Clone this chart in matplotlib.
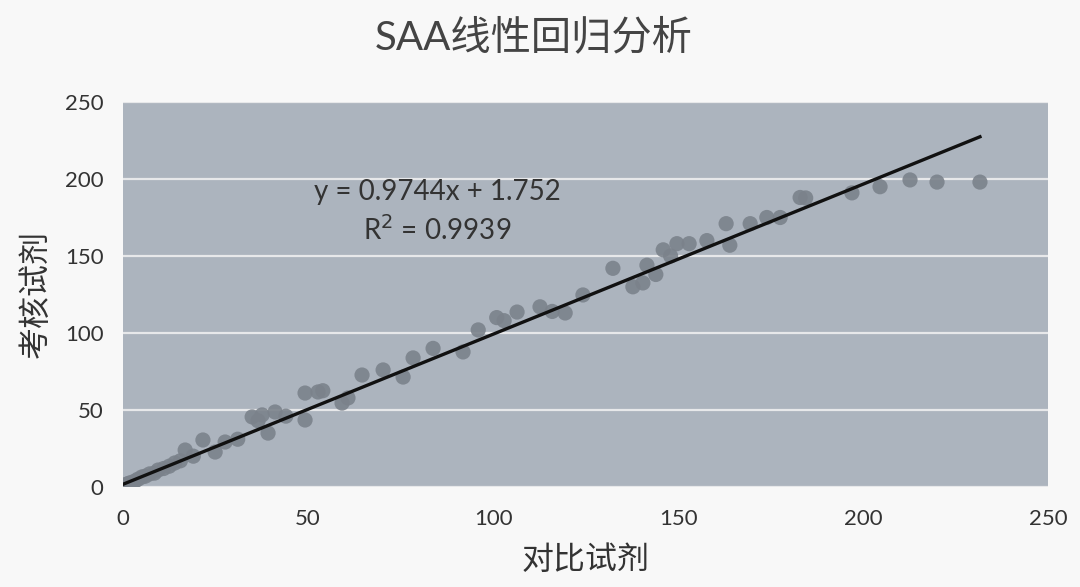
import matplotlib.pyplot as plt
import numpy as np

plt.rcParams['font.family'] = ['Lato', 'Noto Sans CJK SC', 'DejaVu Sans']

# data (对比试剂 vs 考核试剂)
ref_vals = [0.3, 0.8, 1.2, 1.8, 2.5, 3.2, 4.0, 5.1, 6.0, 7.2, 8.5, 9.5, 11.0, 12.5,
            14.0, 15.5, 16.8, 19.0, 21.6, 24.9, 27.6, 31.0, 34.9, 36.5, 37.6, 39.2,
            41.1, 44.0, 49.2, 49.2, 52.7, 54.0, 59.2, 60.8, 64.6, 70.3, 75.7, 78.4,
            83.8, 91.9, 96.0, 101.0, 103.0, 106.5, 112.7, 116.0, 119.5, 124.3,
            132.4, 137.8, 140.5, 141.6, 144.0, 146.0, 148.0, 149.7, 153.0, 157.8,
            163.0, 164.0, 169.5, 174.0, 177.6, 183.0, 184.5, 197.0, 204.6, 212.7,
            220.0, 231.6]
test_vals = [1.0, 1.5, 2.0, 2.6, 3.0, 3.8, 5.0, 6.5, 7.0, 8.5, 9.0, 11.0, 12.0, 13.5,
             15.6, 17.0, 24.0, 20.0, 30.5, 22.7, 29.2, 31.0, 45.5, 43.0, 46.8, 35.0,
             48.7, 46.0, 43.5, 61.0, 61.7, 62.5, 54.5, 57.8, 72.7, 76.0, 71.4, 83.8,
             90.0, 87.7, 102.0, 110.0, 108.0, 113.6, 117.0, 114.0, 113.0, 124.7,
             142.0, 130.0, 132.5, 144.0, 138.0, 154.0, 150.0, 158.0, 158.0, 160.0,
             171.0, 157.0, 171.0, 175.0, 175.0, 188.0, 187.7, 191.0, 195.0, 199.4,
             198.0, 198.0]

slope = 0.9744
intercept = 1.752
r2 = 0.9939

x_ticks = [0, 50, 100, 150, 200, 250]
y_ticks = [0, 50, 100, 150, 200, 250]

fig = plt.figure(figsize=(10.8, 5.87), dpi=100, facecolor='#f8f8f8')
ax = fig.add_axes([0.1139, 0.1704, 0.8565, 0.6558])
ax.set_facecolor('#acb4be')

ax.scatter(ref_vals, test_vals, s=120, color='#7b828b', alpha=0.9,
           edgecolors='none', zorder=3)

fit_x = np.array([0, max(ref_vals)])
ax.plot(fit_x, slope * fit_x + intercept, color='#111111', lw=2.4, zorder=4)

ax.text(0.34, 0.765, 'y = %.4fx + %.3f' % (slope, intercept),
        transform=ax.transAxes, ha='center', va='center',
        fontsize=20, color='#333333', zorder=5)
ax.text(0.34, 0.667, 'R$^2$ = %.4f' % r2,
        transform=ax.transAxes, ha='center', va='center',
        fontsize=20, color='#333333', zorder=5)

ax.set_xlim(0, 250)
ax.set_ylim(0, 250)
ax.set_xticks(x_ticks)
ax.set_yticks(y_ticks)
ax.tick_params(axis='both', length=0, labelsize=16, colors='#333333')
ax.tick_params(axis='y', pad=14)
ax.tick_params(axis='x', pad=16)
ax.grid(axis='y', color='#f2f2f2', lw=1.6, alpha=0.85, zorder=1)
ax.set_axisbelow(True)
for s in ax.spines.values():
    s.set_visible(False)

ax.set_xlabel('对比试剂', fontsize=23, color='#333333', labelpad=11)
ax.set_ylabel('考核试剂', fontsize=23, color='#333333', labelpad=10)
fig.suptitle('SAA线性回归分析', fontsize=29, color='#444444',
             x=0.494, y=0.937, va='center')

plt.savefig('out.png', dpi=100, facecolor=fig.get_facecolor())
